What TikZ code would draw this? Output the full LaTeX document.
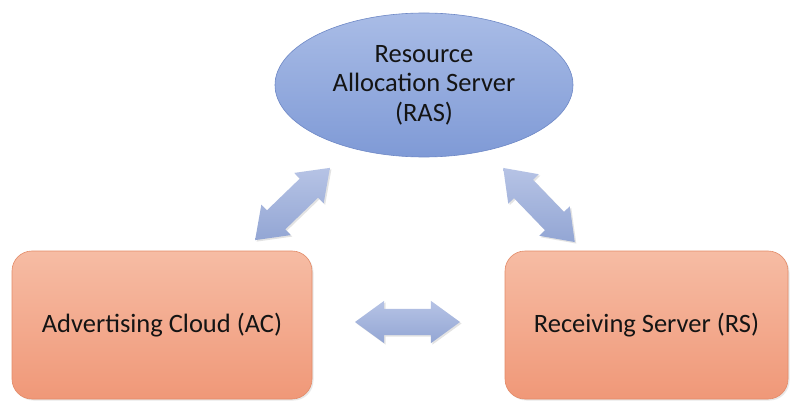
\documentclass[tikz,border=0pt]{standalone}
\usepackage{fontspec}
\setmainfont{Carlito}
\usetikzlibrary{shapes.geometric,shapes.arrows,shadows}

\definecolor{rasTop}{HTML}{A9BCE6}
\definecolor{rasBot}{HTML}{7F9AD6}
\definecolor{rasLine}{HTML}{6E88C6}
\definecolor{boxTop}{HTML}{F6BCA4}
\definecolor{boxBot}{HTML}{F09878}
\definecolor{boxLine}{HTML}{E38B68}
\definecolor{arrTop}{HTML}{B6C3E5}
\definecolor{arrBot}{HTML}{93A6D4}
\definecolor{txt}{HTML}{141414}

\tikzset{
  server/.style={ellipse, draw=rasLine, line width=0.6pt,
    top color=rasTop, bottom color=rasBot, inner sep=0pt,
    minimum width=298pt, minimum height=144pt, align=center,
    font=\fontsize{26.5}{29.5}\selectfont, text=txt},
  unitbox/.style={rectangle, rounded corners=20pt, draw=boxLine, line width=0.6pt,
    top color=boxTop, bottom color=boxBot, inner sep=0pt,
    minimum height=148pt, font=\fontsize{26.5}{30}\selectfont, text=txt,
    drop shadow={opacity=0.18, shadow xshift=1.5pt, shadow yshift=-1.5pt}},
  link/.style={double arrow, inner xsep=0pt, inner ysep=13pt,
    double arrow head extend=8pt, double arrow tip angle=72,
    top color=arrTop, bottom color=arrBot, draw=none,
    drop shadow={opacity=0.22, shadow xshift=1.5pt, shadow yshift=-1.5pt}}
}

\begin{document}
\begin{tikzpicture}[x=1pt,y=1pt]
\useasboundingbox (0,0) rectangle (790,-401);
\fill[white] (0,0) rectangle (790,-401);

% the three parties
\node[server] (ras) at (424,-85) {Resource\\Allocation Server\\(RAS)};
\node[unitbox, minimum width=300pt] (ac) at (162,-325) {Advertising Cloud (AC)};
\node[unitbox, minimum width=283pt] (rs) at (646.5,-325) {Receiving Server (RS)};

% two-way links between them
\node[link, minimum height=104pt, rotate=44] (l1) at (292.5,-204) {};
\node[link, minimum height=103pt, rotate=-46] (l2) at (539,-205) {};
\node[link, minimum height=105pt] (l3) at (407.5,-322) {};
\end{tikzpicture}
\end{document}
